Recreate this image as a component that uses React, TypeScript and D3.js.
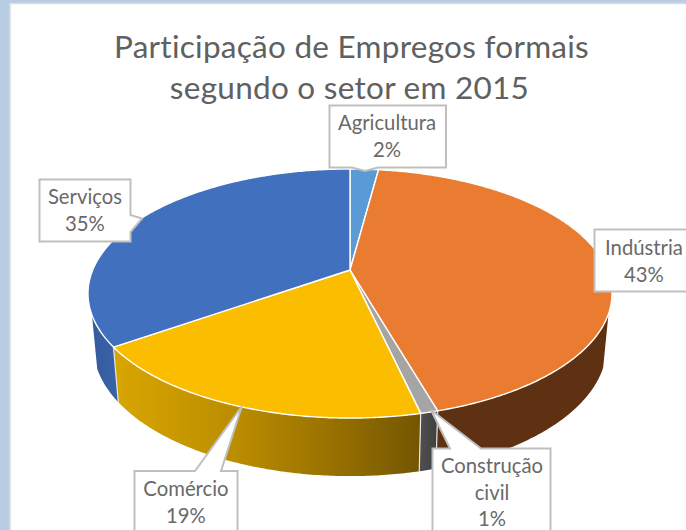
import React from "react";
import * as d3 from "d3";

const categories = ["Agricultura", "Indústria", "Construção civil", "Comércio", "Serviços"];
const shares = [2.1, 43.4, 0.9, 18.9, 34.7];
const percentLabels = ["2%", "43%", "1%", "19%", "35%"];
const topColors = ["#5b9bd5", "#ea7c31", "#a5a5a5", "#fbbd00", "#4170bf"];
const titleLines = ["Participação de Empregos formais", "segundo o setor em 2015"];

const W = 686, H = 530;
const K = 0.1888;
const TAU = Math.PI * 2;
const VIS0 = (110 / 360) * TAU, VIS1 = (249.5 / 360) * TAU;

const scaleTop = { cx: 350, cy: 270, b: 257.3, a: 120.1 };
const scaleBot = { cx: 350, cy: 322, b: 252, a: 125 };

type Pt = [number, number];
function project(angle: number, s: typeof scaleTop, r = 1): Pt {
  const u = r * Math.sin(angle), v = -r * Math.cos(angle), w = 1 - K * v;
  return [s.cx + (s.b * u) / w, s.cy + (s.a * v) / w];
}
function arc(a0: number, a1: number, s: typeof scaleTop): Pt[] {
  const n = Math.max(2, Math.ceil(Math.abs(a1 - a0) / 0.01));
  return d3.range(n + 1).map((i) => project(a0 + ((a1 - a0) * i) / n, s));
}
const line = d3.line<Pt>();

const slices = d3.pie<number>().sort(null).startAngle(0).endAngle(TAU)(shares);

const sideFill = ["none", "#5f3113", "url(#gConst)", "url(#gCom)", "url(#gServ)"];

type Box = { x: number; y: number; w: number; h: number; pointer?: Pt[]; lines: string[]; ty: number; tx: number };
const labelLines = categories.map((c, i) =>
  c === "Construção civil" ? ["Construção", "civil", percentLabels[i]] : [c, percentLabels[i]]
);
const boxes: Box[] = [
  { x: 329.5, y: 105.5, w: 116.5, h: 62, lines: labelLines[0], ty: 130, tx: 387, pointer: [[352, 167.5], [365, 171], [378, 167.5]] },
  { x: 594.5, y: 229.5, w: 100, h: 62, lines: labelLines[1], ty: 255, tx: 644 },
  { x: 432.5, y: 448.5, w: 118, h: 100, lines: labelLines[2], ty: 473, tx: 492, pointer: [[450, 448.5], [431, 410], [481, 448.5]] },
  { x: 134.5, y: 471, w: 103, h: 80, lines: labelLines[3], ty: 496, tx: 186, pointer: [[195, 471], [242, 406], [221, 471]] },
  { x: 39.5, y: 179.5, w: 91, h: 62, lines: labelLines[4], ty: 204, tx: 85, pointer: [[130.5, 215], [142, 218.5], [130.5, 232]] },
];

function boxPath(b: Box): string {
  const r: Pt[] = [[b.x, b.y], [b.x + b.w, b.y], [b.x + b.w, b.y + b.h], [b.x, b.y + b.h]];
  if (!b.pointer) return (line(r) as string) + "Z";
  const p = b.pointer;
  const mx = p[0][0], my = p[0][1];
  let pts: Pt[];
  if (Math.abs(my - b.y) < 1) pts = [r[0], ...p, r[1], r[2], r[3]];
  else if (Math.abs(my - (b.y + b.h)) < 1) pts = [r[0], r[1], r[2], p[2], p[1], p[0], r[3]];
  else if (Math.abs(mx - (b.x + b.w)) < 1) pts = [r[0], r[1], ...p, r[2], r[3]];
  else pts = r;
  return (line(pts) as string) + "Z";
}

export default function App() {
  return (
    <svg width={W} height={H} viewBox={`0 0 ${W} ${H}`} style={{ position: "fixed", left: 0, top: 0, display: "block" }}>
      <defs>
        <linearGradient id="gCom" gradientUnits="userSpaceOnUse" x1="113" x2="419" y1="0" y2="0">
          <stop offset="0" stopColor="#d9a600" />
          <stop offset="0.4" stopColor="#bb8d00" />
          <stop offset="0.7" stopColor="#9a7200" />
          <stop offset="1" stopColor="#735700" />
        </linearGradient>
        <linearGradient id="gServ" gradientUnits="userSpaceOnUse" x1="89" x2="118" y1="0" y2="0">
          <stop offset="0" stopColor="#345a9c" />
          <stop offset="1" stopColor="#3a63a8" />
        </linearGradient>
        <linearGradient id="gConst" gradientUnits="userSpaceOnUse" x1="419" x2="437" y1="0" y2="0">
          <stop offset="0" stopColor="#505050" />
          <stop offset="1" stopColor="#404040" />
        </linearGradient>
      </defs>
      <rect width={W} height={H} fill="#b8cce4" />
      <rect x={10} y={3.5} width={W} height={H} fill="#ffffff" stroke="#dcdcdc" strokeWidth={1.5} />
      <g fontFamily="Lato, 'Open Sans', sans-serif" fontSize={31.5} fill="#606060" textAnchor="middle">
        {titleLines.map((t, i) => (
          <text key={t} x={i === 0 ? 351.5 : 349.5} y={58 + i * 40.5} letterSpacing={0.27}>{t}</text>
        ))}
      </g>
      {slices.map((s, i) => {
        const a0 = Math.max(s.startAngle, VIS0), a1 = Math.min(s.endAngle, VIS1);
        if (a1 <= a0 || sideFill[i] === "none") return null;
        const pts = [...arc(a0, a1, scaleTop), ...arc(a1, a0, scaleBot)];
        return <path key={i} d={(line(pts) as string) + "Z"} fill={sideFill[i]} />;
      })}
      {slices.slice(2, 5).map((s, i) => {
        const [x0, y0] = project(s.startAngle, scaleTop);
        const [x1, y1] = project(s.startAngle, scaleBot);
        return <line key={i} x1={x0} y1={y0} x2={x1} y2={y1} stroke="#e6e6e6" strokeWidth={1.2} />;
      })}
      {slices.map((s, i) => {
        const pts: Pt[] = [[scaleTop.cx, scaleTop.cy], ...arc(s.startAngle, s.endAngle, scaleTop)];
        return <path key={i} d={(line(pts) as string) + "Z"} fill={topColors[i]} stroke="#ffffff" strokeWidth={1.4} strokeLinejoin="round" />;
      })}
      {boxes.map((b, i) => (
        <g key={i}>
          <path d={boxPath(b)} fill="#ffffff" stroke="#bfbfbf" strokeWidth={2} />
          <text fontFamily="Lato, 'Open Sans', sans-serif" fontSize={20.3} fill="#696969" textAnchor="middle">
            {b.lines.map((l, j) => (
              <tspan key={j} x={b.tx} y={b.ty + j * 26.5}>{l}</tspan>
            ))}
          </text>
        </g>
      ))}
    </svg>
  );
}
